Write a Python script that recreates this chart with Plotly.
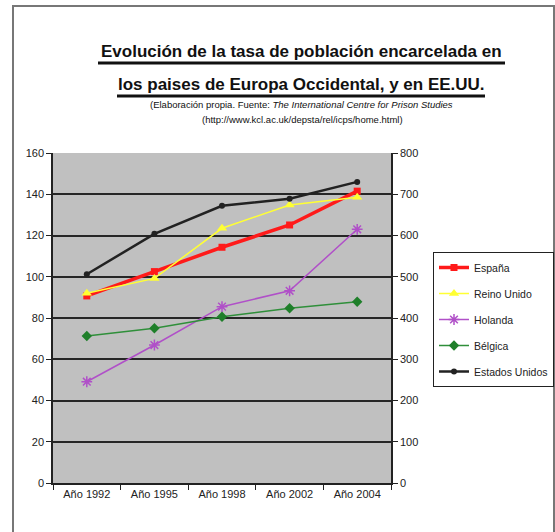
import plotly.graph_objects as go

categories = ["Año 1992", "Año 1995", "Año 1998", "Año 2002", "Año 2004"]
espana = [90.7, 102.5, 114.3, 125.1, 141.5]
reino_unido = [92.0, 99.2, 123.5, 134.8, 138.5]
holanda = [49.1, 66.9, 85.5, 93.2, 123.0]
belgica = [71.3, 75.0, 80.6, 84.7, 87.9]
estados_unidos = [506, 604, 672, 689, 730]  # right axis

W, H = 555, 532
L, R, T, B = 53, 391, 153, 483  # plot area pixel box


def xp(px):
    return (px - L) / (R - L)


def yp(py):
    return (B - py) / (B - T)


FONT = "Liberation Sans, Arial, sans-serif"

fig = go.Figure()
fig.add_trace(go.Scatter(x=categories, y=espana, name="España", mode="lines+markers",
                         line=dict(color="#ff1a1a", width=3.5),
                         marker=dict(symbol="square", size=7, color="#ff1a1a"),
                         legendgroup="a"))
fig.add_trace(go.Scatter(x=categories, y=reino_unido, name="Reino Unido", mode="lines+markers",
                         line=dict(color="#ffff33", width=1.5),
                         marker=dict(symbol="triangle-up", size=9, color="#ffff33"),
                         legendgroup="b"))
fig.add_trace(go.Scatter(x=categories, y=holanda, name="Holanda", mode="lines+markers",
                         line=dict(color="#b050c8", width=1.5),
                         marker=dict(symbol="asterisk-open", size=9,
                                     line=dict(color="#a040b8", width=1.5)),
                         legendgroup="c"))
fig.add_trace(go.Scatter(x=categories, y=belgica, name="Bélgica", mode="lines+markers",
                         line=dict(color="#2f8f3a", width=1.5),
                         marker=dict(symbol="diamond", size=8, color="#1f7f2a"),
                         legendgroup="d"))
fig.add_trace(go.Scatter(x=categories, y=estados_unidos, name="Estados Unidos", mode="lines+markers",
                         line=dict(color="#222222", width=2.5),
                         marker=dict(symbol="circle", size=6, color="#222222"),
                         yaxis="y2", legendgroup="e"))

ann = []
ann.append(dict(text="<b>Evolución de la tasa de población encarcelada en</b>",
                x=xp(301), y=yp(52), xref="paper", yref="paper", showarrow=False,
                xanchor="center", yanchor="middle", font=dict(family=FONT, size=17, color="#111")))
ann.append(dict(text="<b>los paises de Europa Occidental, y en EE.UU.</b>",
                x=xp(301), y=yp(84), xref="paper", yref="paper", showarrow=False,
                xanchor="center", yanchor="middle", font=dict(family=FONT, size=17, color="#111")))
ann.append(dict(text="(Elaboración propia. Fuente: <i>The International Centre for Prison Studies</i>",
                x=xp(301), y=yp(105), xref="paper", yref="paper", showarrow=False,
                xanchor="center", yanchor="middle", font=dict(family=FONT, size=9.5, color="#111")))
ann.append(dict(text="(http://www.kcl.ac.uk/depsta/rel/icps/home.html)",
                x=xp(302), y=yp(119), xref="paper", yref="paper", showarrow=False,
                xanchor="center", yanchor="middle", font=dict(family=FONT, size=9.5, color="#111")))

shapes = [
    dict(type="rect", xref="paper", yref="paper", x0=xp(13), x1=xp(554), y0=yp(540), y1=yp(6),
         line=dict(color="#777777", width=2), fillcolor="rgba(0,0,0,0)", layer="below"),
    dict(type="line", xref="paper", yref="paper", x0=xp(98), x1=xp(505), y0=yp(63), y1=yp(63),
         line=dict(color="#111", width=3)),
    dict(type="line", xref="paper", yref="paper", x0=xp(117), x1=xp(485), y0=yp(96), y1=yp(96),
         line=dict(color="#111", width=3)),
]

fig.update_layout(
    width=W, height=H,
    margin=dict(l=L, r=W - R, t=T, b=H - B, pad=0, autoexpand=False),
    paper_bgcolor="white",
    plot_bgcolor="#c0c0c0",
    font=dict(family=FONT, size=11, color="#222"),
    showlegend=True,
    legend=dict(x=xp(433), y=yp(252), xanchor="left", yanchor="top",
                bgcolor="white", bordercolor="#222", borderwidth=1,
                font=dict(family=FONT, size=10.5, color="#222"),
                tracegroupgap=7, traceorder="grouped"),
    xaxis=dict(type="category", range=[-0.5, 4.5], showgrid=False,
               showline=True, linecolor="#222", linewidth=1.5,
               ticks="outside", tickson="boundaries", ticklen=5, tickcolor="#222",
               tickfont=dict(size=11), fixedrange=True),
    yaxis=dict(range=[0, 160], dtick=20, showgrid=True, gridcolor="#262626", gridwidth=2,
               showline=True, linecolor="#222", linewidth=1.5, zeroline=False,
               ticks="outside", ticklen=5, tickcolor="#222", tickfont=dict(size=11)),
    yaxis2=dict(range=[0, 800], dtick=100, overlaying="y", side="right", showgrid=False,
                showline=True, linecolor="#222", linewidth=1.5, zeroline=False,
                ticks="outside", ticklen=5, tickcolor="#222", tickfont=dict(size=11)),
    annotations=ann,
    shapes=shapes,
)

fig.write_html("out.html", config={"displayModeBar": False},
               post_script="document.body.style.margin='0px';")
